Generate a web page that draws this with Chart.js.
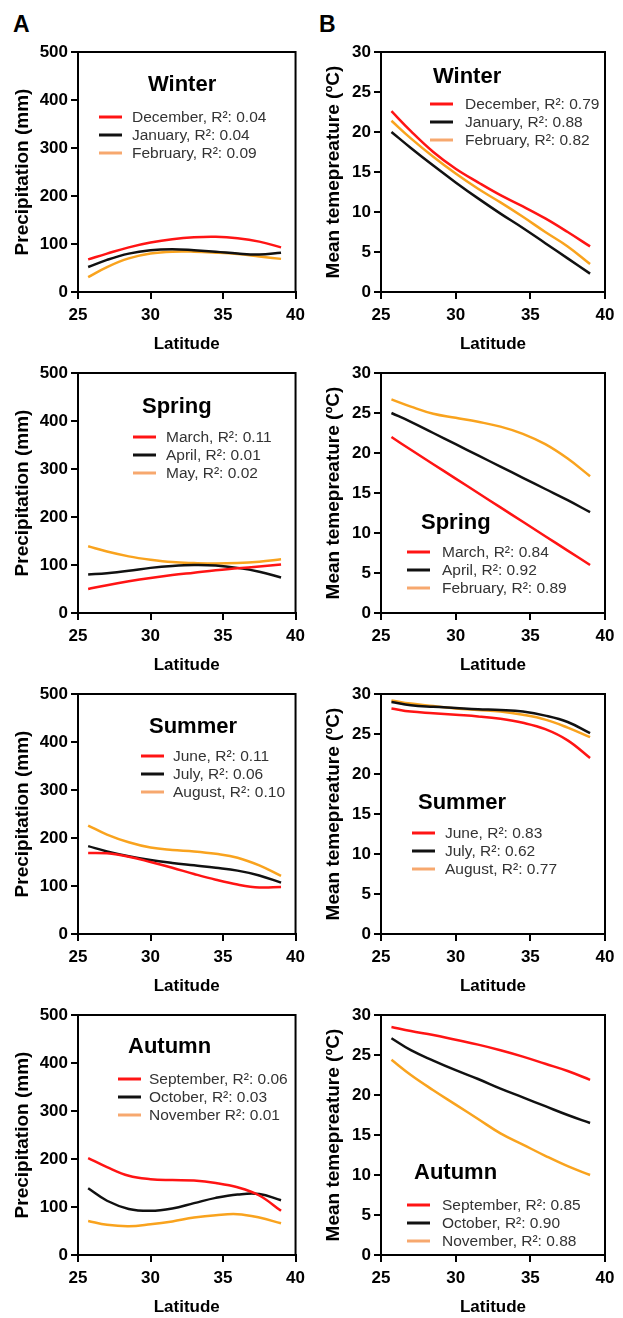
<!DOCTYPE html>
<html>
<head>
<meta charset="utf-8">
<script src="https://cdn.jsdelivr.net/npm/chart.js@4.4.1/dist/chart.umd.min.js"></script>
<style>
  html, body { margin: 0; padding: 0; background: #fff; }
  body { width: 623px; height: 1318px; position: relative; overflow: hidden;
         font-family: 'Liberation Sans', Arial, Helvetica, sans-serif; }
  .panel { position: absolute; }
  .tag { position: absolute; font-weight: bold; font-size: 23px; line-height: 23px; }
</style>
</head>
<body>
<div class="tag" style="left:13px;top:13px">A</div>
<div class="tag" style="left:319px;top:13px">B</div>
<script>
// ---- data ----
const latitude = [25.7, 27, 28.5, 30, 31.5, 33, 34.5, 36, 37.5, 39];
const seasons = ['Winter', 'Spring', 'Summer', 'Autumn'];

// precipitation (mm)
const precDec = [68, 80, 93, 103, 110, 114, 115, 112, 105, 93];
const precJan = [52, 67, 80, 87, 89, 87, 84, 80, 78, 82];
const precFeb = [31, 52, 70, 80, 84, 84, 82, 79, 74, 69];
const precMar = [50, 58, 66, 73, 79, 84, 89, 93, 97, 101];
const precApr = [80, 83, 88, 94, 98, 100, 99, 94, 86, 74];
const precMay = [139, 128, 118, 111, 106, 104, 103, 104, 107, 112];
const precJun = [169, 168, 161, 150, 138, 125, 113, 103, 97, 98];
const precJul = [183, 172, 162, 154, 148, 143, 138, 132, 122, 107];
const precAug = [226, 207, 191, 180, 175, 172, 167, 159, 143, 121];
const precSep = [202, 183, 165, 158, 156, 155, 150, 141, 124, 92];
const precOct = [139, 113, 96, 92, 97, 108, 119, 126, 127, 114];
const precNov = [71, 63, 60, 64, 70, 78, 83, 85, 78, 66];

// mean temperature (°C)
const tempDec = [22.6, 20.1, 17.5, 15.4, 13.7, 12.1, 10.7, 9.2, 7.5, 5.7];
const tempJan = [20.0, 18.0, 15.8, 13.7, 11.7, 9.8, 8.0, 6.1, 4.2, 2.3];
const tempFeb = [21.4, 19.2, 16.9, 14.8, 12.9, 11.2, 9.4, 7.5, 5.7, 3.5];
const tempMar = [22.0, 20.4, 18.6, 16.8, 15.0, 13.2, 11.4, 9.6, 7.8, 6.0];
const tempApr = [25.0, 23.9, 22.5, 21.1, 19.7, 18.3, 16.9, 15.5, 14.1, 12.6];
const tempSpring3 = [26.7, 25.8, 24.9, 24.4, 23.9, 23.3, 22.4, 21.1, 19.3, 17.1];
const tempJun = [28.2, 27.8, 27.6, 27.4, 27.2, 26.9, 26.4, 25.6, 24.2, 22.0];
const tempJul = [29.0, 28.6, 28.4, 28.25, 28.1, 28.0, 27.8, 27.3, 26.5, 25.1];
const tempAug = [29.2, 28.8, 28.5, 28.2, 28.0, 27.8, 27.4, 26.8, 25.8, 24.6];
const tempSep = [28.5, 28.0, 27.5, 26.9, 26.3, 25.6, 24.8, 23.9, 23.0, 21.9];
const tempOct = [27.1, 25.6, 24.3, 23.1, 22.0, 20.8, 19.7, 18.6, 17.5, 16.5];
const tempNov = [24.4, 22.5, 20.6, 18.8, 17.0, 15.2, 13.8, 12.4, 11.1, 10.0];

// legend labels
const precWinterLabels = ['December, R\u00b2: 0.04', 'January, R\u00b2: 0.04', 'February, R\u00b2: 0.09'];
const precSpringLabels = ['March, R\u00b2: 0.11', 'April, R\u00b2: 0.01', 'May, R\u00b2: 0.02'];
const precSummerLabels = ['June, R\u00b2: 0.11', 'July, R\u00b2: 0.06', 'August, R\u00b2: 0.10'];
const precAutumnLabels = ['September, R\u00b2: 0.06', 'October, R\u00b2: 0.03', 'November R\u00b2: 0.01'];
const tempWinterLabels = ['December, R\u00b2: 0.79', 'January, R\u00b2: 0.88', 'February, R\u00b2: 0.82'];
const tempSpringLabels = ['March, R\u00b2: 0.84', 'April, R\u00b2: 0.92', 'February, R\u00b2: 0.89'];
const tempSummerLabels = ['June, R\u00b2: 0.83', 'July, R\u00b2: 0.62', 'August, R\u00b2: 0.77'];
const tempAutumnLabels = ['September, R\u00b2: 0.85', 'October, R\u00b2: 0.90', 'November, R\u00b2: 0.88'];

const xTicks = [25, 30, 35, 40];
const precTicks = [0, 100, 200, 300, 400, 500];
const tempTicks = [0, 5, 10, 15, 20, 25, 30];

// ---- styling ----
const FONT = "'Liberation Sans', Arial, Helvetica, sans-serif";
const lineColors = ['#FF1414', '#111111', '#F9A31E'];
const keyColors = ['#FF1414', '#111111', '#F7A86E'];

Chart.defaults.font.family = FONT;
Chart.defaults.color = '#000';

// box on top/right + season title + legend inside plot
const panelText = {
    id: 'panelText',
    afterDraw: function(chart, args, opts) {
        const ctx = chart.ctx;
        const a = chart.chartArea;
        ctx.save();
        ctx.strokeStyle = '#000';
        ctx.lineWidth = 2;
        ctx.beginPath();
        ctx.moveTo(a.left, a.top);
        ctx.lineTo(a.right, a.top);
        ctx.lineTo(a.right, a.bottom);
        ctx.stroke();

        ctx.fillStyle = '#000';
        ctx.textBaseline = 'middle';
        ctx.textAlign = 'left';
        ctx.font = 'bold 22px ' + FONT;
        ctx.fillText(opts.title, a.left + opts.tx, a.top + opts.ty);

        ctx.font = '15.5px ' + FONT;
        chart.data.datasets.forEach((ds, i) => {
            const y = a.top + opts.ly + i * 18;
            const x = a.left + opts.lx;
            ctx.strokeStyle = ds.keyColor;
            ctx.lineWidth = 3;
            ctx.beginPath();
            ctx.moveTo(x, y);
            ctx.lineTo(x + 23, y);
            ctx.stroke();
            ctx.fillStyle = '#333';
            ctx.fillText(ds.label, x + opts.gap, y + 1);
        });
        ctx.restore();
    }
};

function makePanel(opt) {
    const wrap = document.createElement('div');
    wrap.className = 'panel';
    wrap.style.left = opt.left + 'px';
    wrap.style.top = opt.top + 'px';
    wrap.style.width = opt.width + 'px';
    wrap.style.height = '348px';
    const canvas = document.createElement('canvas');
    wrap.appendChild(canvas);
    document.body.appendChild(wrap);

    const datasets = opt.series.map((vals, i) => ({
        label: opt.labels[i],
        data: latitude.map((x, j) => ({ x: x, y: vals[j] })),
        borderColor: lineColors[i],
        keyColor: keyColors[i],
        borderWidth: 2.5,
        pointRadius: 0,
        tension: 0.4,
        fill: false
    }));

    const gridOpts = {
        display: true,
        drawOnChartArea: false,
        drawTicks: true,
        tickLength: 7,
        color: '#000',
        lineWidth: 2
    };

    return new Chart(canvas, {
        type: 'line',
        data: { datasets: datasets },
        options: {
            responsive: true,
            maintainAspectRatio: false,
            animation: false,
            layout: { padding: { top: 45, right: opt.padRight, bottom: 0, left: 0 } },
            plugins: {
                legend: { display: false },
                tooltip: { enabled: false },
                panelText: opt.text
            },
            scales: {
                x: {
                    type: 'linear',
                    min: 25,
                    max: 40,
                    afterBuildTicks: s => { s.ticks = xTicks.map(v => ({ value: v })); },
                    afterFit: s => { s.height = 63; },
                    grid: gridOpts,
                    border: { display: true, color: '#000', width: 2 },
                    ticks: { padding: 6, font: { size: 17, weight: 'bold' }, color: '#000' },
                    title: { display: true, text: 'Latitude', padding: 0,
                             font: { size: 17, weight: 'bold' }, color: '#000' }
                },
                y: {
                    type: 'linear',
                    min: 0,
                    max: opt.yMax,
                    afterBuildTicks: s => { s.ticks = opt.yTicks.map(v => ({ value: v })); },
                    afterFit: s => { s.width = opt.yWidth; },
                    grid: gridOpts,
                    border: { display: true, color: '#000', width: 2 },
                    ticks: { padding: 3, font: { size: 17, weight: 'bold' }, color: '#000' },
                    title: { display: true, text: opt.yTitle, padding: { top: opt.yTitlePad, bottom: 0 },
                             font: { size: 19, weight: 'bold' }, color: '#000' }
                }
            }
        },
        plugins: [panelText]
    });
}

const rowTops = [7, 328, 649, 970];

const precSeries = [
    [precDec, precJan, precFeb],
    [precMar, precApr, precMay],
    [precJun, precJul, precAug],
    [precSep, precOct, precNov]
];
const tempSeries = [
    [tempDec, tempJan, tempFeb],
    [tempMar, tempApr, tempSpring3],
    [tempJun, tempJul, tempAug],
    [tempSep, tempOct, tempNov]
];
const precLabels = [precWinterLabels, precSpringLabels, precSummerLabels, precAutumnLabels];
const tempLabels = [tempWinterLabels, tempSpringLabels, tempSummerLabels, tempAutumnLabels];

// title / legend placement inside each plot (offsets from chart area top-left)
const precText = [
    { tx: 70, ty: 33, lx: 21, ly: 65, gap: 33 },
    { tx: 64, ty: 34, lx: 55, ly: 64, gap: 33 },
    { tx: 71, ty: 33, lx: 63, ly: 62, gap: 32 },
    { tx: 50, ty: 32, lx: 40, ly: 64, gap: 31 }
];
const tempText = [
    { tx: 52, ty: 25, lx: 49, ly: 52, gap: 35 },
    { tx: 40, ty: 150, lx: 26, ly: 179, gap: 35 },
    { tx: 37, ty: 109, lx: 31, ly: 139, gap: 33 },
    { tx: 33, ty: 158, lx: 26, ly: 190, gap: 35 }
];

seasons.forEach((season, r) => {
    makePanel({
        left: 0, top: rowTops[r], width: 311, padRight: 13, yWidth: 78,
        yMax: 500, yTicks: precTicks, yTitle: 'Precipitation (mm)', yTitlePad: 11,
        series: precSeries[r], labels: precLabels[r],
        text: Object.assign({ title: season }, precText[r])
    });
    makePanel({
        left: 311, top: rowTops[r], width: 312, padRight: 18, yWidth: 70,
        yMax: 30, yTicks: tempTicks, yTitle: 'Mean temepreature (\u00baC)', yTitlePad: 11,
        series: tempSeries[r], labels: tempLabels[r],
        text: Object.assign({ title: season }, tempText[r])
    });
});
</script>
</body>
</html>
